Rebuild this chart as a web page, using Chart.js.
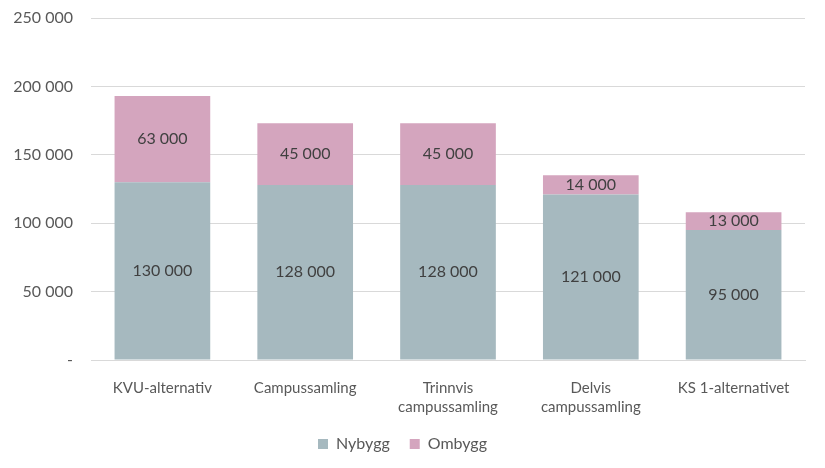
<!DOCTYPE html>
<html>
<head>
<meta charset="utf-8">
<script src="https://cdn.jsdelivr.net/npm/chart.js@4/dist/chart.umd.min.js"></script>
<style>
  html, body { margin: 0; padding: 0; background: #fff; }
  #wrap { width: 825px; height: 468px; }
</style>
</head>
<body>
<div id="wrap"><canvas id="c"></canvas></div>
<script>
const categories = [
  "KVU-alternativ",
  "Campussamling",
  ["Trinnvis", "campussamling"],
  ["Delvis", "campussamling"],
  "KS 1-alternativet"
];
const nybygg = [130000, 128000, 128000, 121000, 95000];
const ombygg = [63000, 45000, 45000, 14000, 13000];
const yTicks = [0, 50000, 100000, 150000, 200000, 250000];

const FONT = "Lato, 'Open Sans', sans-serif";

const fmt = (v) => (v === 0 ? "-" : String(v).replace(/\B(?=(\d{3})+(?!\d))/g, " "));

// labels drawn in the middle of each segment
const barLabels = {
  id: "barLabels",
  afterDatasetsDraw(chart) {
    const ctx = chart.ctx;
    ctx.save();
    ctx.font = "16px " + FONT;
    ctx.fillStyle = "#404040";
    ctx.textAlign = "center";
    ctx.textBaseline = "middle";
    chart.data.datasets.forEach((ds, i) => {
      chart.getDatasetMeta(i).data.forEach((bar, j) => {
        const { x, y, base } = bar.getProps(["x", "y", "base"], true);
        ctx.fillText(fmt(ds.data[j]), x, (y + base) / 2);
      });
    });
    ctx.restore();
  }
};

new Chart(document.getElementById("c"), {
  type: "bar",
  data: {
    labels: categories,
    datasets: [
      { label: "Nybygg", data: nybygg, backgroundColor: "#A6B9BF" },
      { label: "Ombygg", data: ombygg, backgroundColor: "#D4A5BE" }
    ]
  },
  options: {
    responsive: true,
    maintainAspectRatio: false,
    animation: false,
    layout: { padding: { top: 18, right: 20, left: 0, bottom: 6 } },
    datasets: { bar: { categoryPercentage: 1, barPercentage: 0.67 } },
    plugins: {
      legend: {
        position: "bottom",
        labels: {
          font: { family: FONT, size: 16 },
          color: "#595959",
          boxWidth: 10,
          boxHeight: 10,
          padding: 20
        }
      },
      tooltip: { enabled: false }
    },
    scales: {
      x: {
        stacked: true,
        grid: { display: false },
        border: { color: "#D9D9D9" },
        ticks: {
          font: { family: FONT, size: 15, lineHeight: 1.3 },
          color: "#595959",
          maxRotation: 0,
          padding: 10
        },
        afterFit: (s) => { s.height = 56; }
      },
      y: {
        stacked: true,
        min: 0,
        max: 250000,
        afterBuildTicks: (s) => { s.ticks = yTicks.map((v) => ({ value: v })); },
        grid: { color: "#D9D9D9", drawTicks: false },
        border: { display: false },
        ticks: {
          font: { family: FONT, size: 16 },
          color: "#595959",
          padding: 18,
          callback: (v) => fmt(v)
        },
        afterFit: (s) => { s.width = 91; s.paddingTop = 0; s.paddingBottom = 0; }
      }
    }
  },
  plugins: [barLabels]
});
</script>
</body>
</html>
